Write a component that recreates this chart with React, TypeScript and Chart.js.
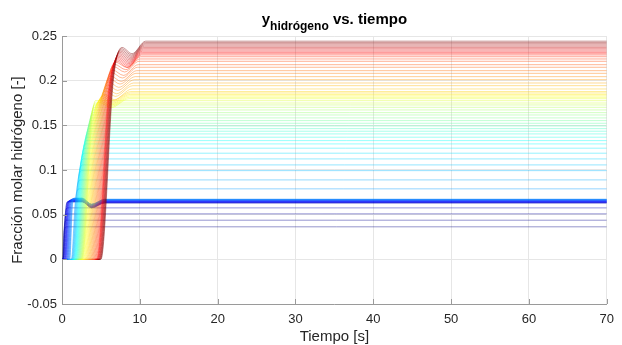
import { useEffect, useRef } from 'react';
import { Chart, registerables } from 'chart.js';

Chart.register(...registerables);

const FONT = '"Liberation Sans", Arial, Helvetica, sans-serif';

const X_TICKS = [0, 10, 20, 30, 40, 50, 60, 70];
const X_TICK_LABELS = ['0', '10', '20', '30', '40', '50', '60', '70'];
const Y_TICKS = [-0.05, 0, 0.05, 0.1, 0.15, 0.2, 0.25];
const Y_TICK_LABELS = ['-0.05', '0', '0.05', '0.1', '0.15', '0.2', '0.25'];

// groups of curves (in order, blue -> red): lavender, blue bunch, cyan/green, yellow, orange, red
const GROUP_NAMES = ['L', 'B', 'C', 'Y', 'O', 'R'];
const GROUP_SIZES = [4, 16, 24, 6, 12, 12];

// steady-state values
const FINALS = [
  0.0364, 0.0438, 0.0509, 0.0576,
  0.063, 0.0633, 0.0636, 0.0639, 0.0642, 0.0645, 0.0648, 0.0651,
  0.0654, 0.0657, 0.066, 0.0663, 0.0666, 0.0669, 0.0671, 0.0673,
  0.0789, 0.0889, 0.0993, 0.1057, 0.1124, 0.1188, 0.1244, 0.1292, 0.1329, 0.1367, 0.1404, 0.1434,
  0.1463, 0.1493, 0.1523, 0.1553, 0.1583, 0.1616, 0.1642, 0.1672, 0.1702, 0.1728, 0.175, 0.1776,
  0.1798, 0.1814, 0.183, 0.1846, 0.1862, 0.1878,
  0.1907, 0.1944, 0.1974, 0.2011, 0.2045, 0.2082, 0.2112, 0.215, 0.2179, 0.2217, 0.2243, 0.2268,
  0.2288, 0.2302, 0.2316, 0.233, 0.2344, 0.2358, 0.2372, 0.2386, 0.24, 0.2414, 0.2428, 0.2442,
];

// time at which each curve leaves zero
const DELAYS = [
  0.1, 0.12, 0.14, 0.16,
  0.16, 0.2, 0.25, 0.3, 0.35, 0.4, 0.45, 0.5, 0.56, 0.62, 0.68, 0.74, 0.8, 0.87, 0.94, 1.0,
  1.2, 1.26, 1.32, 1.38, 1.44, 1.5, 1.56, 1.62, 1.68, 1.74, 1.8, 1.86,
  1.92, 1.98, 2.04, 2.1, 2.16, 2.22, 2.28, 2.34, 2.4, 2.46, 2.52, 2.58,
  2.66, 2.76, 2.86, 2.96, 3.06, 3.16,
  3.26, 3.36, 3.46, 3.56, 3.66, 3.76, 3.86, 3.96, 4.06, 4.16, 4.26, 4.36,
  4.45, 4.5, 4.55, 4.6, 4.65, 4.7, 4.75, 4.8, 4.85, 4.9, 4.95, 5.0,
];

// dip and settling times of the yellow / orange / red curves
const DIP_TIMES = [
  6.3, 6.35, 6.4, 6.45, 6.5, 6.55,
  6.7, 6.85, 7.0, 7.15, 7.3, 7.45, 7.6, 7.75, 7.9, 8.05, 8.2, 8.35,
  8.45, 8.5, 8.55, 8.6, 8.65, 8.7, 8.75, 8.8, 8.85, 8.9, 8.95, 9.0,
];
const SETTLE_TIMES = [
  8.6, 8.65, 8.7, 8.75, 8.8, 8.85,
  9.0, 9.1, 9.2, 9.3, 9.4, 9.5, 9.6, 9.7, 9.8, 9.9, 10.0, 10.1,
  10.2, 10.25, 10.3, 10.35, 10.4, 10.45, 10.5, 10.55, 10.6, 10.65, 10.7, 10.75,
];

// per-group shape values
const RISE_RATE: Record<string, number> = { L: 0.2, B: 0.18, C: 0.125, Y: 0.125, O: 0.125, R: 0.125 };
const HOLD: Record<string, number> = { L: 0.3, B: 0.25, C: 0.5, Y: 0.9, O: 1.0, R: 1.1 };
const PEAK_DROP: Record<string, number> = { Y: 0.004, O: 0.006, R: 0.007 };
const DIP_DROP: Record<string, number> = { Y: 0.01, O: 0.012, R: 0.014 };
const BLUE_PEAK_RISE = 0.0012;
const BLUE_HOLD_END = 2.6;
const BLUE_DIP_T = 3.8;
const BLUE_DIP_DROP = 0.0055;
const BLUE_SETTLE_T = 5.5;
const FOOT = 0.3;
const LINE_ALPHA = 0.42;

function jet(v: number, a: number) {
  const c = (x: number) => Math.max(0, Math.min(1, x));
  const r = c(1.5 - Math.abs(4 * v - 3));
  const g = c(1.5 - Math.abs(4 * v - 2));
  const b = c(1.5 - Math.abs(4 * v - 1));
  return `rgba(${Math.round(r * 255)},${Math.round(g * 255)},${Math.round(b * 255)},${a})`;
}

const GROUP_OF: string[] = [];
GROUP_SIZES.forEach((n, gi) => {
  for (let k = 0; k < n; k++) GROUP_OF.push(GROUP_NAMES[gi]);
});
const FIRST_HIGH = GROUP_OF.indexOf('Y');

function curvePoints(i: number) {
  const f = FINALS[i];
  const d = DELAYS[i];
  const g = GROUP_OF[i];
  const rate = RISE_RATE[g];
  const hold = HOLD[g];
  const pts = [{ x: Math.max(0, d - FOOT), y: 0 }, { x: d, y: 0 }];
  if (g === 'B') {
    const p = f + BLUE_PEAK_RISE;
    const t85 = d + (0.85 * p) / rate;
    pts.push(
      { x: t85, y: 0.85 * p },
      { x: t85 + hold, y: p },
      { x: BLUE_HOLD_END, y: p },
      { x: BLUE_DIP_T, y: f - BLUE_DIP_DROP },
      { x: BLUE_SETTLE_T, y: f },
    );
  } else if (g === 'L' || g === 'C') {
    const t85 = d + (0.85 * f) / rate;
    pts.push({ x: t85, y: 0.85 * f }, { x: t85 + hold, y: f });
  } else {
    const k = i - FIRST_HIGH;
    const p = f - PEAK_DROP[g];
    const t85 = d + (0.85 * p) / rate;
    pts.push(
      { x: t85, y: 0.85 * p },
      { x: t85 + hold, y: p },
      { x: DIP_TIMES[k], y: f - DIP_DROP[g] },
      { x: SETTLE_TIMES[k], y: f },
    );
  }
  pts.push({ x: 70, y: f });
  return pts;
}

const AXIS_COLOR = '#9a9a9a';
const TEXT_COLOR = '#262626';

const decorPlugin = {
  id: 'decor',
  afterDraw(chart: any) {
    const { ctx, chartArea } = chart;
    const { left, right, top, bottom } = chartArea;
    const xs = chart.scales.x;
    const ys = chart.scales.y;
    ctx.save();
    // inward ticks
    ctx.strokeStyle = AXIS_COLOR;
    ctx.lineWidth = 1;
    ctx.beginPath();
    X_TICKS.forEach((v) => {
      const px = Math.round(xs.getPixelForValue(v)) + 0.5;
      ctx.moveTo(px, bottom);
      ctx.lineTo(px, bottom - 5);
    });
    Y_TICKS.forEach((v) => {
      const py = Math.round(ys.getPixelForValue(v)) + 0.5;
      ctx.moveTo(left, py);
      ctx.lineTo(left + 5, py);
    });
    ctx.stroke();

    // title with subscript
    const cx = (left + right) / 2;
    ctx.fillStyle = '#000';
    ctx.textBaseline = 'alphabetic';
    ctx.textAlign = 'left';
    const big = `bold 15px ${FONT}`;
    const small = `bold 12px ${FONT}`;
    ctx.font = big;
    const w1 = ctx.measureText('y').width;
    const w3 = ctx.measureText(' vs. tiempo').width;
    ctx.font = small;
    const w2 = ctx.measureText('hidrógeno').width;
    let x0 = cx - (w1 + w2 + w3) / 2;
    ctx.font = big;
    ctx.fillText('y', x0, 24);
    x0 += w1;
    ctx.font = small;
    ctx.fillText('hidrógeno', x0, 30);
    x0 += w2;
    ctx.font = big;
    ctx.fillText(' vs. tiempo', x0, 24);

    // axis titles
    ctx.fillStyle = TEXT_COLOR;
    ctx.font = `15px ${FONT}`;
    ctx.textAlign = 'center';
    ctx.fillText('Tiempo [s]', cx, 341);
    ctx.translate(21.5, (top + bottom) / 2);
    ctx.rotate(-Math.PI / 2);
    ctx.fillText('Fracción molar hidrógeno [-]', 0, 0);
    ctx.restore();
  },
};

export default function App() {
  const ref = useRef<HTMLCanvasElement | null>(null);
  useEffect(() => {
    if (!ref.current) return;
    const n = FINALS.length;
    const datasets = FINALS.map((_, i) => ({
      label: `c${i}`,
      data: curvePoints(i),
      borderColor: jet(i / (n - 1), LINE_ALPHA),
      backgroundColor: 'transparent',
      borderWidth: 1,
      pointRadius: 0,
      fill: false,
      cubicInterpolationMode: 'monotone' as const,
      order: n - i,
    }));
    const chart = new Chart(ref.current, {
      type: 'line',
      data: { datasets },
      options: {
        animation: false,
        responsive: false,
        devicePixelRatio: 1,
        events: [],
        layout: { padding: { top: 36, right: 9, left: 0, bottom: 0 } },
        plugins: { legend: { display: false }, tooltip: { enabled: false }, title: { display: false } },
        scales: {
          x: {
            type: 'linear',
            min: 0,
            max: 70,
            afterBuildTicks: (s: any) => {
              s.ticks = X_TICKS.map((v) => ({ value: v }));
            },
            afterFit: (s: any) => {
              s.height = 41;
            },
            ticks: {
              callback: (_v: any, idx: number) => X_TICK_LABELS[idx],
              font: { family: FONT, size: 13 },
              color: TEXT_COLOR,
              padding: 8,
              maxRotation: 0,
              autoSkip: false,
            },
            grid: { color: '#e6e6e6', drawTicks: false, lineWidth: 1 },
            border: { color: AXIS_COLOR, width: 1 },
          },
          y: {
            type: 'linear',
            min: -0.05,
            max: 0.25,
            afterBuildTicks: (s: any) => {
              s.ticks = Y_TICKS.map((v) => ({ value: v }));
            },
            afterFit: (s: any) => {
              s.width = 62;
            },
            ticks: {
              callback: (_v: any, idx: number) => Y_TICK_LABELS[idx],
              font: { family: FONT, size: 13 },
              color: TEXT_COLOR,
              padding: 5,
              autoSkip: false,
            },
            grid: { color: '#e6e6e6', drawTicks: false, lineWidth: 1 },
            border: { color: AXIS_COLOR, width: 1 },
          },
        },
      },
      plugins: [decorPlugin],
    });
    return () => chart.destroy();
  }, []);
  return (
    <canvas
      ref={ref}
      width={622}
      height={345}
      style={{ position: 'fixed', left: 0, top: 0, width: 622, height: 345, background: '#fff' }}
    />
  );
}
